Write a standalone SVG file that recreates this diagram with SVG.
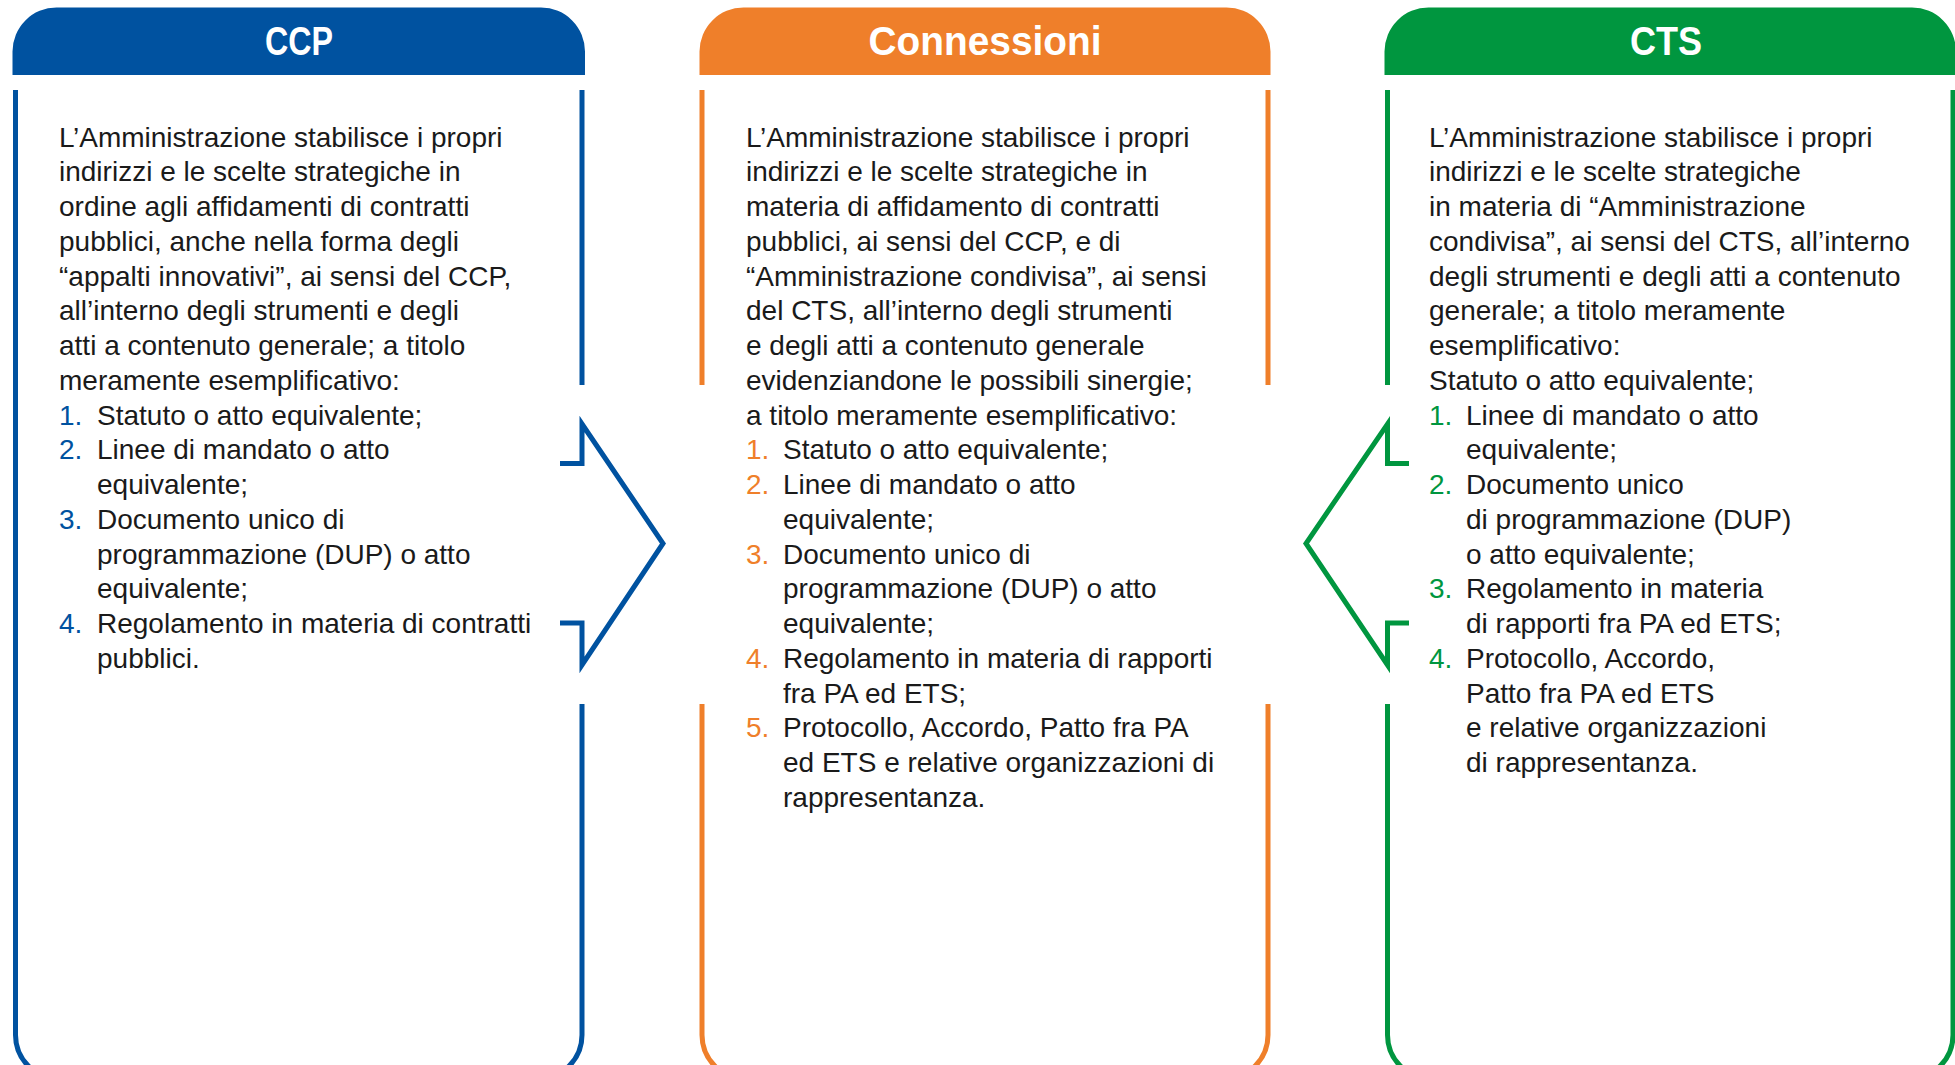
<svg xmlns="http://www.w3.org/2000/svg" width="1955" height="1065" viewBox="0 0 1955 1065">
<style>
.hdr{font-family:"Liberation Sans",Arial,sans-serif;font-weight:bold;font-size:40px;fill:#ffffff;text-anchor:middle}
.t{font-family:"Liberation Sans",Arial,sans-serif;font-size:28px;fill:#1a1a1a}
.box{fill:none;stroke-width:5}
.blue{stroke:#0052A0}.orange{stroke:#EF7F2A}.green{stroke:#00963F}
.nb{fill:#0052A0}.no{fill:#EF7F2A}.ng{fill:#00963F}
.chev{fill:none;stroke-width:5;stroke-linejoin:miter;stroke-miterlimit:6}
</style>
<rect width="1955" height="1065" fill="#ffffff"/>

<g id="node-ccp">
<path d="M12.5,75 V51.5 A44,44 0 0 1 56.5,7.5 H541 A44,44 0 0 1 585,51.5 V75 Z" fill="#0052A0"/>
<text class="hdr" x="299" y="55" textLength="68" lengthAdjust="spacingAndGlyphs">CCP</text>
<path class="box blue" d="M15.5,90 V1035 A44,44 0 0 0 59.5,1079 H538 A44,44 0 0 0 582,1035 V704"/>
<path class="box blue" d="M582,90 V385"/>
<text class="t" x="59" y="146.5">L’Amministrazione stabilisce i propri</text>
<text class="t" x="59" y="181.25">indirizzi e le scelte strategiche in</text>
<text class="t" x="59" y="216">ordine agli affidamenti di contratti</text>
<text class="t" x="59" y="250.75">pubblici, anche nella forma degli</text>
<text class="t" x="59" y="285.5">“appalti innovativi”, ai sensi del CCP,</text>
<text class="t" x="59" y="320.25">all’interno degli strumenti e degli</text>
<text class="t" x="59" y="355">atti a contenuto generale; a titolo</text>
<text class="t" x="59" y="389.75">meramente esemplificativo:</text>
<text class="t nb" x="59" y="424.5">1.</text><text class="t" x="97" y="424.5">Statuto o atto equivalente;</text>
<text class="t nb" x="59" y="459.25">2.</text><text class="t" x="97" y="459.25">Linee di mandato o atto</text>
<text class="t" x="97" y="494">equivalente;</text>
<text class="t nb" x="59" y="528.75">3.</text><text class="t" x="97" y="528.75">Documento unico di</text>
<text class="t" x="97" y="563.5">programmazione (DUP) o atto</text>
<text class="t" x="97" y="598.25">equivalente;</text>
<text class="t nb" x="59" y="633">4.</text><text class="t" x="97" y="633">Regolamento in materia di contratti</text>
<text class="t" x="97" y="667.75">pubblici.</text>
</g>

<g id="node-connessioni">
<path d="M699.5,75 V51.5 A44,44 0 0 1 743.5,7.5 H1226.5 A44,44 0 0 1 1270.5,51.5 V75 Z" fill="#EF7F2A"/>
<text class="hdr" x="985" y="55" textLength="233" lengthAdjust="spacingAndGlyphs">Connessioni</text>
<path class="box orange" d="M702,704 V1035 A44,44 0 0 0 746,1079 H1224 A44,44 0 0 0 1268,1035 V704"/>
<path class="box orange" d="M702,90 V385 M1268,90 V385"/>
<text class="t" x="746" y="146.5">L’Amministrazione stabilisce i propri</text>
<text class="t" x="746" y="181.25">indirizzi e le scelte strategiche in</text>
<text class="t" x="746" y="216">materia di affidamento di contratti</text>
<text class="t" x="746" y="250.75">pubblici, ai sensi del CCP, e di</text>
<text class="t" x="746" y="285.5">“Amministrazione condivisa”, ai sensi</text>
<text class="t" x="746" y="320.25">del CTS, all’interno degli strumenti</text>
<text class="t" x="746" y="355">e degli atti a contenuto generale</text>
<text class="t" x="746" y="389.75">evidenziandone le possibili sinergie;</text>
<text class="t" x="746" y="424.5">a titolo meramente esemplificativo:</text>
<text class="t no" x="746" y="459.25">1.</text><text class="t" x="783" y="459.25">Statuto o atto equivalente;</text>
<text class="t no" x="746" y="494">2.</text><text class="t" x="783" y="494">Linee di mandato o atto</text>
<text class="t" x="783" y="528.75">equivalente;</text>
<text class="t no" x="746" y="563.5">3.</text><text class="t" x="783" y="563.5">Documento unico di</text>
<text class="t" x="783" y="598.25">programmazione (DUP) o atto</text>
<text class="t" x="783" y="633">equivalente;</text>
<text class="t no" x="746" y="667.75">4.</text><text class="t" x="783" y="667.75">Regolamento in materia di rapporti</text>
<text class="t" x="783" y="702.5">fra PA ed ETS;</text>
<text class="t no" x="746" y="737.25">5.</text><text class="t" x="783" y="737.25">Protocollo, Accordo, Patto fra PA</text>
<text class="t" x="783" y="772">ed ETS e relative organizzazioni di</text>
<text class="t" x="783" y="806.75">rappresentanza.</text>
</g>

<g id="node-cts">
<path d="M1384.5,75 V51.5 A44,44 0 0 1 1428.5,7.5 H1912 A44,44 0 0 1 1956,51.5 V75 Z" fill="#00963F"/>
<text class="hdr" x="1666" y="55" textLength="72" lengthAdjust="spacingAndGlyphs">CTS</text>
<path class="box green" d="M1387.5,704 V1035 A44,44 0 0 0 1431.5,1079 H1909 A44,44 0 0 0 1953,1035 V90"/>
<path class="box green" d="M1387.5,90 V385"/>
<text class="t" x="1429" y="146.5">L’Amministrazione stabilisce i propri</text>
<text class="t" x="1429" y="181.25">indirizzi e le scelte strategiche</text>
<text class="t" x="1429" y="216">in materia di “Amministrazione</text>
<text class="t" x="1429" y="250.75">condivisa”, ai sensi del CTS, all’interno</text>
<text class="t" x="1429" y="285.5">degli strumenti e degli atti a contenuto</text>
<text class="t" x="1429" y="320.25">generale; a titolo meramente</text>
<text class="t" x="1429" y="355">esemplificativo:</text>
<text class="t" x="1429" y="389.75">Statuto o atto equivalente;</text>
<text class="t ng" x="1429" y="424.5">1.</text><text class="t" x="1466" y="424.5">Linee di mandato o atto</text>
<text class="t" x="1466" y="459.25">equivalente;</text>
<text class="t ng" x="1429" y="494">2.</text><text class="t" x="1466" y="494">Documento unico</text>
<text class="t" x="1466" y="528.75">di programmazione (DUP)</text>
<text class="t" x="1466" y="563.5">o atto equivalente;</text>
<text class="t ng" x="1429" y="598.25">3.</text><text class="t" x="1466" y="598.25">Regolamento in materia</text>
<text class="t" x="1466" y="633">di rapporti fra PA ed ETS;</text>
<text class="t ng" x="1429" y="667.75">4.</text><text class="t" x="1466" y="667.75">Protocollo, Accordo,</text>
<text class="t" x="1466" y="702.5">Patto fra PA ed ETS</text>
<text class="t" x="1466" y="737.25">e relative organizzazioni</text>
<text class="t" x="1466" y="772">di rappresentanza.</text>
</g>

<g id="connectors">
<path class="chev blue" d="M560,463.5 H582 V424 L663,543.5 L582,665 V623 H560"/>
<path class="chev green" d="M1409,463.5 H1387.5 V424 L1306,543.5 L1387.5,665 V623 H1409"/>
</g>
</svg>
